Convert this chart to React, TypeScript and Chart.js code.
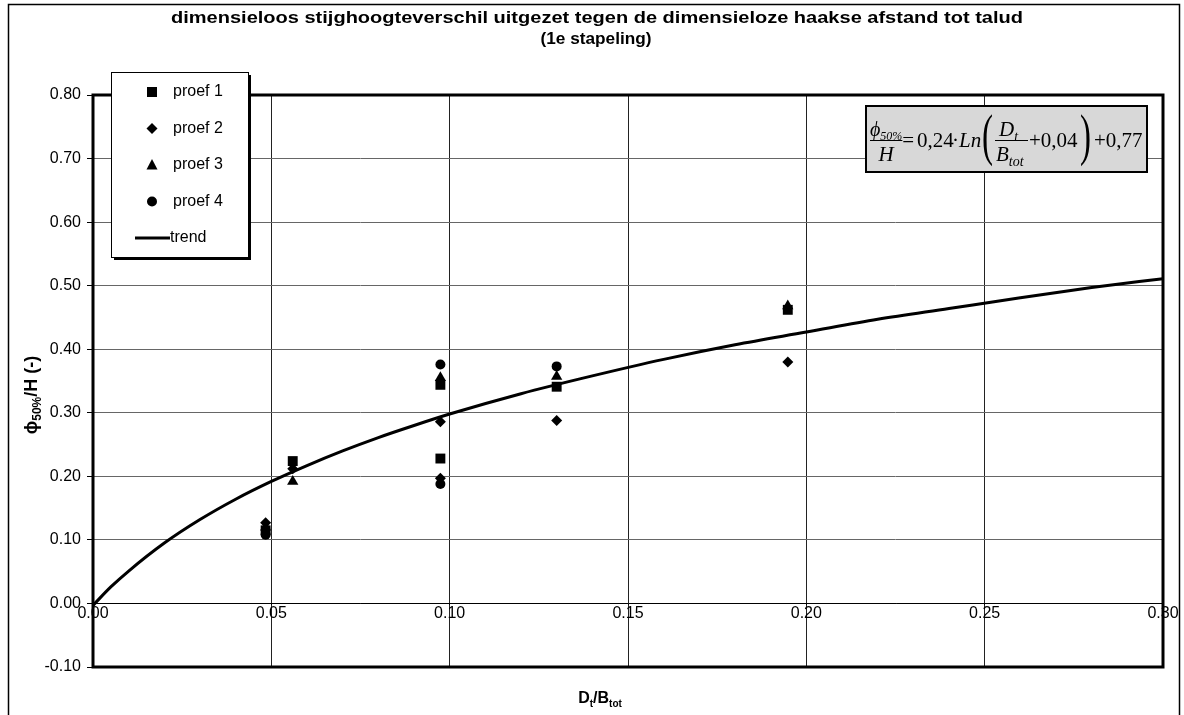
import React, { useEffect, useRef } from 'react';
import { Chart, registerables } from 'chart.js';

Chart.register(...registerables);

// ---- data ----
const titleLines = [
  'dimensieloos stijghoogteverschil uitgezet tegen de dimensieloze haakse afstand tot talud',
  '(1e stapeling)',
];
const legendLabels = ['proef 1', 'proef 2', 'proef 3', 'proef 4', 'trend'];

const proef1X = [0.0484, 0.056, 0.0974, 0.0974, 0.130, 0.1948];
const proef1Y = [0.115, 0.224, 0.344, 0.228, 0.341, 0.462];

const proef2X = [0.0484, 0.056, 0.0974, 0.0974, 0.130, 0.1948];
const proef2Y = [0.127, 0.212, 0.286, 0.197, 0.288, 0.380];

const proef3X = [0.0484, 0.056, 0.0974, 0.130, 0.1948];
const proef3Y = [0.120, 0.192, 0.355, 0.357, 0.468];

const proef4X = [0.0484, 0.0974, 0.0974, 0.130];
const proef4Y = [0.108, 0.376, 0.188, 0.373];

const trendX = [0, 0.005, 0.01, 0.02, 0.03, 0.04, 0.05, 0.06, 0.07, 0.08, 0.09, 0.10, 0.12, 0.14, 0.16, 0.18, 0.20, 0.22, 0.24, 0.26, 0.28, 0.30];
const trendY = [-0.003, 0.026, 0.051, 0.095, 0.132, 0.164, 0.192, 0.217, 0.240, 0.261, 0.280, 0.298, 0.330, 0.358, 0.384, 0.407, 0.427, 0.447, 0.464, 0.481, 0.497, 0.511];

const xMin = 0, xMax = 0.3, xStep = 0.05;
const yMin = -0.1, yMax = 0.8, yStep = 0.1;

const pts = (xs: number[], ys: number[]) => xs.map((x, i) => ({ x, y: ys[i] }));

const SANS = '"Liberation Sans", Arial, sans-serif';
const SERIF = '"Liberation Serif", "Times New Roman", serif';

type Part = { t: string; sub?: boolean; italic?: boolean };

function drawRich(ctx: CanvasRenderingContext2D, parts: Part[], x: number, y: number, size: number, bold: boolean, align: 'left' | 'center', family: string, subScale = 0.65) {
  const fontFor = (p: Part) => `${p.italic ? 'italic ' : ''}${bold ? 'bold ' : ''}${p.sub ? Math.round(size * subScale) : size}px ${family}`;
  let total = 0;
  for (const p of parts) { ctx.font = fontFor(p); total += ctx.measureText(p.t).width; }
  let cx = align === 'center' ? x - total / 2 : x;
  ctx.textBaseline = 'alphabetic';
  ctx.textAlign = 'left';
  for (const p of parts) {
    ctx.font = fontFor(p);
    ctx.fillText(p.t, cx, p.sub ? y + size * 0.22 : y);
    cx += ctx.measureText(p.t).width;
  }
  return total;
}

function fitText(ctx: CanvasRenderingContext2D, text: string, cx: number, cy: number, width: number) {
  const w = ctx.measureText(text).width;
  ctx.save();
  ctx.translate(cx, cy);
  ctx.scale(width / w, 1);
  ctx.textAlign = 'center';
  ctx.textBaseline = 'middle';
  ctx.fillText(text, 0, 0);
  ctx.restore();
}

function paren(ctx: CanvasRenderingContext2D, ch: string, x: number, cy: number) {
  ctx.save();
  ctx.font = `56px ${SERIF}`;
  const w = ctx.measureText(ch).width;
  ctx.translate(x, cy);
  ctx.scale(11 / w, 1);
  ctx.textAlign = 'left';
  ctx.textBaseline = 'middle';
  ctx.fillText(ch, 0, 0);
  ctx.restore();
}

function marker(ctx: CanvasRenderingContext2D, kind: string, x: number, y: number) {
  ctx.beginPath();
  if (kind === 'rect') ctx.rect(x - 5, y - 5, 10, 10);
  else if (kind === 'rectRot') { ctx.moveTo(x, y - 5.5); ctx.lineTo(x + 5.5, y); ctx.lineTo(x, y + 5.5); ctx.lineTo(x - 5.5, y); ctx.closePath(); }
  else if (kind === 'triangle') { ctx.moveTo(x, y - 6); ctx.lineTo(x + 5.5, y + 4.5); ctx.lineTo(x - 5.5, y + 4.5); ctx.closePath(); }
  else ctx.arc(x, y, 5, 0, Math.PI * 2);
  ctx.fill();
}

const decor = {
  id: 'decor',
  beforeDraw(chart: any) {
    const ctx = chart.ctx as CanvasRenderingContext2D;
    ctx.save();
    ctx.fillStyle = '#fff';
    ctx.fillRect(0, 0, chart.width, chart.height);
    ctx.strokeStyle = '#000';
    ctx.lineWidth = 1.5;
    ctx.strokeRect(8.5, 4.5, 1171, 800);
    // title
    ctx.fillStyle = '#000';
    ctx.font = `bold 17px ${SANS}`;
    fitText(ctx, titleLines[0], 597, 18, 852);
    fitText(ctx, titleLines[1], 596, 39, 111);
    // y title
    ctx.save();
    ctx.translate(31, 395);
    ctx.rotate(-Math.PI / 2);
    drawRich(ctx, [{ t: '\u03D5' }, { t: '50%', sub: true }, { t: '/H (-)' }], 0, 6, 18, true, 'center', SANS);
    ctx.restore();
    // x title
    drawRich(ctx, [{ t: 'D' }, { t: 't', sub: true }, { t: '/B' }, { t: 'tot', sub: true }], 600, 703, 16, true, 'center', SANS);
    ctx.restore();
  },
  beforeDatasetsDraw(chart: any) {
    const ctx = chart.ctx as CanvasRenderingContext2D;
    const a = chart.chartArea;
    ctx.save();
    ctx.strokeStyle = '#000';
    ctx.lineWidth = 3;
    ctx.strokeRect(a.left, a.top, a.right - a.left, a.bottom - a.top);
    ctx.restore();
  },
  afterDatasetsDraw(chart: any) {
    const ctx = chart.ctx as CanvasRenderingContext2D;
    ctx.save();
    // legend box
    const lx = 111, ly = 72, lw = 137, lh = 185;
    ctx.fillStyle = '#000';
    ctx.fillRect(lx + 3, ly + 3, lw, lh);
    ctx.fillStyle = '#fff';
    ctx.fillRect(lx, ly, lw, lh);
    ctx.strokeStyle = '#000';
    ctx.lineWidth = 1;
    ctx.strokeRect(lx + 0.5, ly + 0.5, lw, lh);
    const kinds = ['rect', 'rectRot', 'triangle', 'circle'];
    ctx.font = `16px ${SANS}`;
    ctx.textBaseline = 'middle';
    ctx.textAlign = 'left';
    legendLabels.forEach((lab, i) => {
      const y = 92 + i * 36.5;
      ctx.fillStyle = '#000';
      if (i < 4) {
        marker(ctx, kinds[i], 152, y);
        ctx.fillText(lab, 173, y);
      } else {
        ctx.lineWidth = 3;
        ctx.beginPath();
        ctx.moveTo(135, y);
        ctx.lineTo(170, y);
        ctx.stroke();
        ctx.fillText(lab, 170, y);
      }
    });
    // equation box
    const ex = 866, ey = 106, ew = 281, eh = 66;
    ctx.fillStyle = '#d8d8d8';
    ctx.fillRect(ex, ey, ew, eh);
    ctx.lineWidth = 2;
    ctx.strokeStyle = '#000';
    ctx.strokeRect(ex, ey, ew, eh);
    ctx.fillStyle = '#000';
    const base = 147;
    const fs = 21;
    ctx.textBaseline = 'alphabetic';
    ctx.textAlign = 'left';
    // phi50% / H
    const nw = drawRich(ctx, [{ t: '\u03D5', italic: true }, { t: '50%', sub: true, italic: true }], 870, 136, 20, false, 'left', SERIF, 0.62);
    ctx.lineWidth = 1.2;
    ctx.beginPath(); ctx.moveTo(870, 140.5); ctx.lineTo(870 + nw, 140.5); ctx.stroke();
    ctx.font = `italic ${fs}px ${SERIF}`;
    ctx.textAlign = 'center';
    ctx.fillText('H', 870 + nw / 2, 161);
    ctx.textAlign = 'left';
    ctx.font = `${fs}px ${SERIF}`;
    ctx.fillText('=', 870 + nw, base);
    ctx.fillText('0,24', 917, base);
    ctx.fillText('\u00B7', 952, base);
    ctx.font = `italic ${fs}px ${SERIF}`;
    ctx.fillText('Ln', 959, base);
    paren(ctx, '(', 982, 139);
    drawRich(ctx, [{ t: 'D', italic: true }, { t: 't', sub: true, italic: true }], 999, 136, fs, false, 'left', SERIF);
    ctx.beginPath(); ctx.moveTo(995, 140.5); ctx.lineTo(1028, 140.5); ctx.stroke();
    drawRich(ctx, [{ t: 'B', italic: true }, { t: 'tot', sub: true, italic: true }], 996, 161, fs, false, 'left', SERIF);
    ctx.font = `${fs}px ${SERIF}`;
    ctx.fillText('+0,04', 1029, base);
    paren(ctx, ')', 1080, 139);
    ctx.font = `${fs}px ${SERIF}`;
    ctx.fillText('+0,77', 1094, base);
    ctx.restore();
  },
};

export default function App() {
  const ref = useRef<HTMLCanvasElement>(null);
  useEffect(() => {
    if (!ref.current) return;
    const chart = new Chart(ref.current, {
      type: 'scatter',
      data: {
        datasets: [
          { label: legendLabels[0], data: pts(proef1X, proef1Y), pointStyle: 'rect', pointRadius: 7, backgroundColor: '#000', borderColor: '#000', borderWidth: 0 },
          { label: legendLabels[1], data: pts(proef2X, proef2Y), pointStyle: 'rectRot', pointRadius: 5.5, backgroundColor: '#000', borderColor: '#000', borderWidth: 0 },
          { label: legendLabels[2], data: pts(proef3X, proef3Y), pointStyle: 'triangle', pointRadius: 6.5, backgroundColor: '#000', borderColor: '#000', borderWidth: 0 },
          { label: legendLabels[3], data: pts(proef4X, proef4Y), pointStyle: 'circle', pointRadius: 5, backgroundColor: '#000', borderColor: '#000', borderWidth: 0 },
          { type: 'line', label: legendLabels[4], data: pts(trendX, trendY), showLine: true, pointRadius: 0, borderColor: '#000', borderWidth: 3, cubicInterpolationMode: 'monotone', fill: false } as any,
        ],
      },
      options: {
        responsive: false,
        animation: false,
        layout: { padding: { left: 8, right: 21, top: 95, bottom: 48 } },
        plugins: { legend: { display: false }, tooltip: { enabled: false }, title: { display: false } },
        scales: {
          x: {
            type: 'linear',
            min: xMin,
            max: xMax,
            position: { y: 0 } as any,
            ticks: { stepSize: xStep, color: '#000', font: { family: SANS, size: 16 }, padding: 0, maxRotation: 0, callback: (v: any) => Number(v).toFixed(2) },
            grid: { color: '#222', lineWidth: 1, tickLength: 1, tickColor: '#000' },
            border: { display: true, color: '#000', width: 1 },
          },
          y: {
            type: 'linear',
            min: yMin,
            max: yMax,
            afterFit: (s: any) => { s.width = 85; },
            ticks: { stepSize: yStep, color: '#000', font: { family: SANS, size: 16 }, padding: 6, callback: (v: any) => Number(v).toFixed(2) },
            grid: { color: '#666', lineWidth: 1, tickLength: 6, tickColor: '#000' },
            border: { display: false },
          },
        },
      },
      plugins: [decor],
    });
    return () => chart.destroy();
  }, []);
  return (
    <div style={{ position: 'absolute', left: 0, top: 0, width: 1184, height: 715 }}>
      <canvas ref={ref} width={1184} height={715} style={{ display: 'block' }} />
    </div>
  );
}
